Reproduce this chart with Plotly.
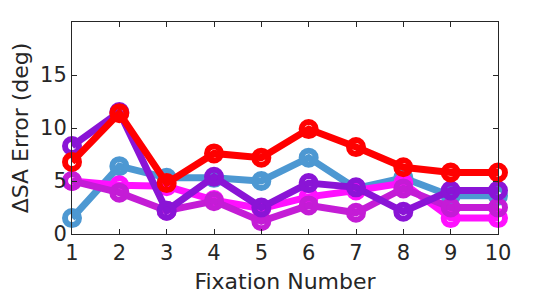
import plotly.graph_objects as go

fixation = [1, 2, 3, 4, 5, 6, 7, 8, 9, 10]
blue_vals = [1.5, 6.4, 5.3, 5.3, 5.0, 7.2, 4.3, 5.3, 3.6, 3.6]
magenta_vals = [5.0, 4.6, 4.5, 3.2, 2.4, 3.5, 4.1, 4.8, 1.5, 1.5]
dmagenta_vals = [5.0, 3.9, 2.2, 3.1, 1.2, 2.7, 2.0, 4.3, 2.5, 2.5]
purple_vals = [8.3, 11.5, 2.2, 5.4, 2.5, 4.8, 4.4, 2.1, 4.1, 4.1]
red_vals = [6.8, 11.4, 4.8, 7.6, 7.2, 9.9, 8.2, 6.3, 5.8, 5.8]

series = [
    (blue_vals, "#4d98d2"),
    (magenta_vals, "#ff10ff"),
    (dmagenta_vals, "#c41cd6"),
    (purple_vals, "#8a14d6"),
    (red_vals, "#ff0000"),
]

fig = go.Figure()
for vals, col in series:
    fig.add_trace(go.Scatter(
        x=fixation, y=vals, mode="lines+markers",
        line=dict(color=col, width=7),
        marker=dict(symbol="circle-open", size=14, color=col, line=dict(width=6, color=col)),
        showlegend=False, cliponaxis=False,
    ))

axis_common = dict(
    showgrid=False, zeroline=False, showline=True, linecolor="#262626", linewidth=1,
    ticks="inside", ticklen=5, tickcolor="#262626", mirror="ticks", automargin=False,
    tickfont=dict(family="DejaVu Sans", size=21, color="#262626"),
)
# page body adds an 8px offset; figure sized to compensate
fig.update_layout(
    width=542, height=289,
    margin=dict(l=64, r=52, t=14, b=63),
    paper_bgcolor="white", plot_bgcolor="white",
    font=dict(family="DejaVu Sans", color="#262626"),
    xaxis=dict(range=[1, 10], tickvals=fixation, ticktext=[str(v) for v in fixation],
               title=dict(text="Fixation Number", font=dict(size=22), standoff=9), **axis_common),
    yaxis=dict(range=[0, 20], tickvals=[0, 5, 10, 15],
               title=dict(text="ΔSA Error (deg)", font=dict(size=22), standoff=17), **axis_common),
)
fig.write_html("out.html")
